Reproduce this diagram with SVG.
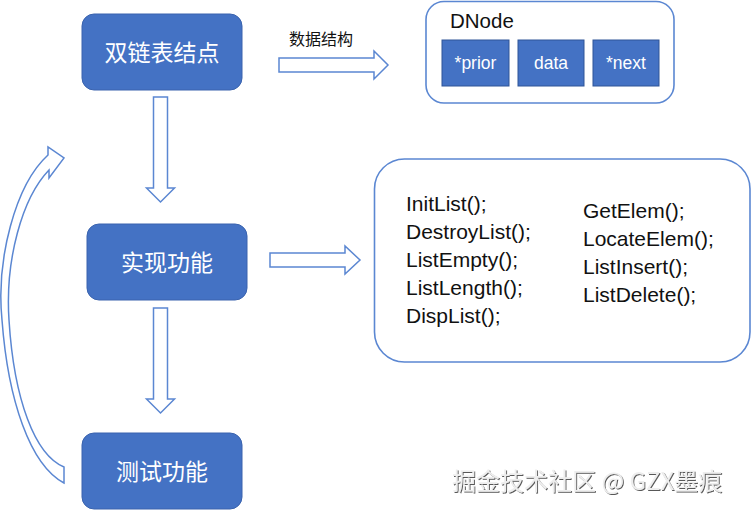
<svg xmlns="http://www.w3.org/2000/svg" width="751" height="511" viewBox="0 0 751 511">
<defs>
<style>
.node{fill:#4472C4;stroke:#3A63AE;stroke-width:1}
.cell{fill:#4472C4;stroke:#2F5597;stroke-width:1}
.frame{fill:#fff;stroke:#5B87D2;stroke-width:1.6}
.arrow{fill:#fff;stroke:#5B87D2;stroke-width:1.5;stroke-linejoin:miter}
.zh{font-family:"Noto Sans CJK SC","Noto Sans",sans-serif;dominant-baseline:central}
.ntext{fill:#fff;font-size:23px;text-anchor:middle}
.lat{font-family:"Liberation Sans",Arial,sans-serif}
.fn{font-size:21px;fill:#111}
.ctext{font-size:17.5px;fill:#fff;text-anchor:middle}
.wm{font-family:"Noto Sans CJK SC","Noto Sans",sans-serif;font-size:24px;fill:#eeeeee;dominant-baseline:central}
</style>
<filter id="shadow" x="-5%" y="-30%" width="110%" height="160%">
<feDropShadow dx="1" dy="1" stdDeviation="0.6" flood-color="#444" flood-opacity="0.9"/>
</filter>
</defs>
<rect width="751" height="511" fill="#fff"/>

<g id="connectors">
<polygon class="arrow" points="279,58 374,58 374,51 388,65 374,79 374,72 279,72"/>
<polygon class="arrow" points="270,253 345,253 345,246 360,260 345,274 345,267 270,267"/>
<polygon class="arrow" points="153.5,97 167.5,97 167.5,188 174.5,188 160.5,202 146.5,188 153.5,188"/>
<polygon class="arrow" points="153.5,308 167.5,308 167.5,399 174.5,399 160.5,413 146.5,399 153.5,399"/>
<path class="arrow" d="M64,483 C30,465 8,400 2,320 C-4,260 15,185 48,155 L48,147 L64,158 L49,178 L49,170 C22,198 5,260 9,320 C14,400 35,455 64,467 Z"/>
<text class="zh" x="289" y="38" font-size="16" fill="#111">数据结构</text>
</g>

<g id="node-dlist">
<rect class="node" x="82" y="14" width="160" height="76" rx="12"/>
<text class="zh ntext" x="162" y="51">双链表结点</text>
</g>

<g id="node-impl">
<rect class="node" x="87" y="224" width="160" height="76" rx="12"/>
<text class="zh ntext" x="167" y="261">实现功能</text>
</g>

<g id="node-test">
<rect class="node" x="82" y="433" width="160" height="76" rx="12"/>
<text class="zh ntext" x="162" y="470">测试功能</text>
</g>

<g id="node-dnode">
<rect class="frame" x="426" y="1.5" width="248" height="101.5" rx="18"/>
<text class="lat" x="450" y="28" font-size="20.5" fill="#111">DNode</text>
<rect class="cell" x="442" y="40" width="67" height="46"/>
<rect class="cell" x="518" y="40" width="66" height="46"/>
<rect class="cell" x="593" y="40" width="66" height="46"/>
<text class="lat ctext" x="475.5" y="69">*prior</text>
<text class="lat ctext" x="551" y="69">data</text>
<text class="lat ctext" x="626" y="69">*next</text>
</g>

<g id="node-functions">
<rect class="frame" x="374.5" y="159" width="375.5" height="203" rx="30"/>
<text class="lat fn" x="406" y="211">InitList();</text>
<text class="lat fn" x="406" y="239">DestroyList();</text>
<text class="lat fn" x="406" y="267">ListEmpty();</text>
<text class="lat fn" x="406" y="295">ListLength();</text>
<text class="lat fn" x="406" y="323">DispList();</text>
<text class="lat fn" x="583" y="218">GetElem();</text>
<text class="lat fn" x="583" y="246">LocateElem();</text>
<text class="lat fn" x="583" y="274">ListInsert();</text>
<text class="lat fn" x="583" y="302">ListDelete();</text>
</g>

<g id="watermark">
<text class="wm" x="452" y="479" filter="url(#shadow)">掘金技术社区 @ GZX墨痕</text>
</g>
</svg>
